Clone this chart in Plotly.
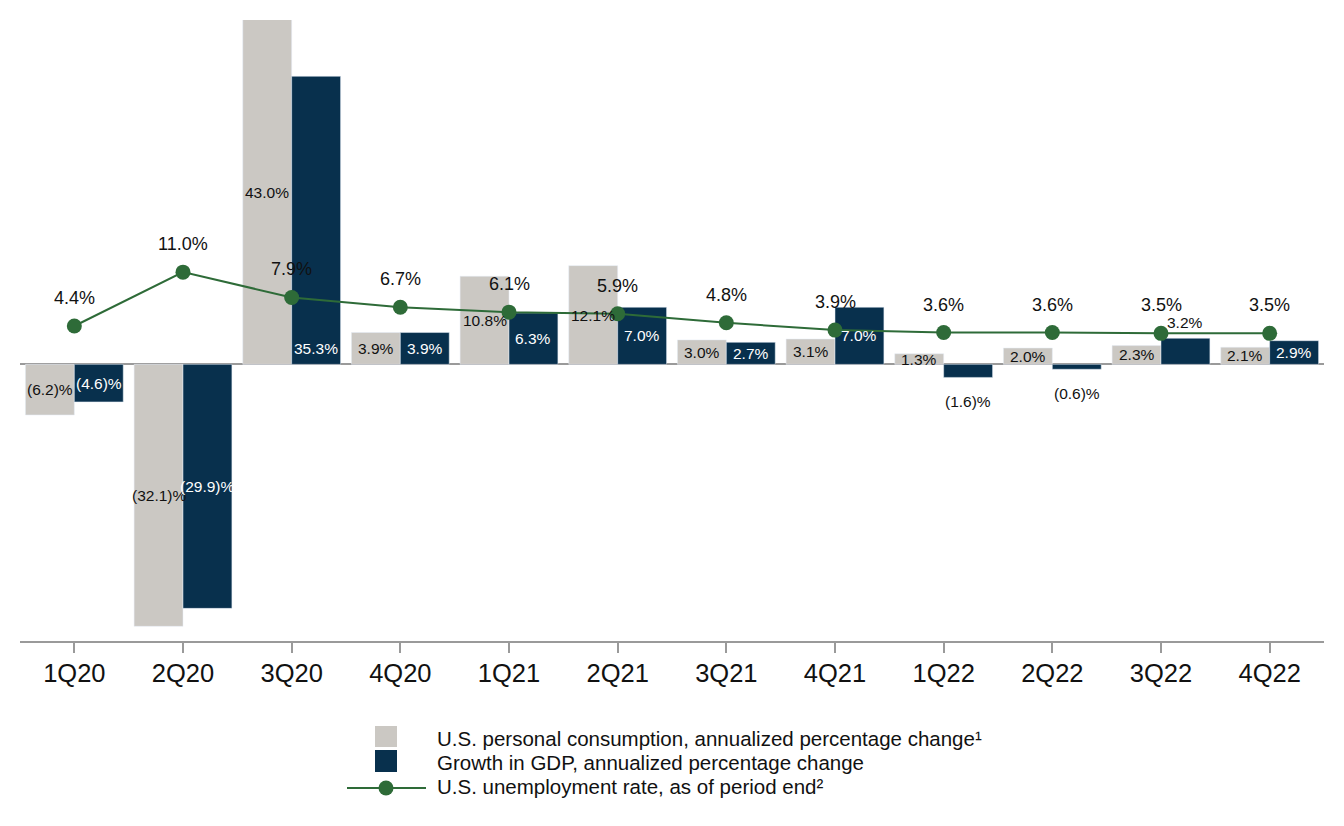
import plotly.graph_objects as go

# Données (en %)
quarters = ['1Q20', '2Q20', '3Q20', '4Q20', '1Q21', '2Q21',
            '3Q21', '4Q21', '1Q22', '2Q22', '3Q22', '4Q22']
consumption = [-6.2, -32.1, 43.0, 3.9, 10.8, 12.1, 3.0, 3.1, 1.3, 2.0, 2.3, 2.1]
gdp = [-4.6, -29.9, 35.3, 3.9, 6.3, 7.0, 2.7, 7.0, -1.6, -0.6, 3.2, 2.9]
unemployment = [4.4, 11.0, 7.9, 6.7, 6.1, 5.9, 4.8, 3.9, 3.6, 3.6, 3.5, 3.5]

names = ['U.S. personal consumption, annualized percentage change\u00b9',
         'Growth in GDP, annualized percentage change',
         'U.S. unemployment rate, as of period end\u00b2']

GREY = '#cbc8c3'
NAVY = '#08304d'
GREEN = '#2e6b38'
AXIS = '#9a9a9a'
FONT = 'Liberation Sans, Arial, sans-serif'

Y_RANGE = [-33.9, 42.2]
Y2_RANGE = [-34.2, 41.9]
BARGAP = 0.1
OFF = (1 - BARGAP) / 4  # centre de chaque barre dans le groupe

# placement des étiquettes GDP qui ne sont pas au milieu de la barre
gdp_label_y = {2: 2.0, 8: -4.5, 9: -3.55, 10: 5.1}
gdp_outside = {8, 9, 10}


def fmt(v):
    return f'({abs(v):.1f})%' if v < 0 else f'{v:.1f}%'


x = list(range(len(quarters)))

fig = go.Figure()
fig.add_trace(go.Bar(x=x, y=consumption, name=names[0], marker_color=GREY,
                     showlegend=False, hoverinfo='skip'))
fig.add_trace(go.Bar(x=x, y=gdp, name=names[1], marker_color=NAVY,
                     showlegend=False, hoverinfo='skip'))
fig.add_trace(go.Scatter(x=x, y=unemployment, name=names[2], yaxis='y2',
                         mode='lines+markers', showlegend=False,
                         line=dict(color=GREEN, width=2),
                         marker=dict(color=GREEN, size=15)))

annotations = []
for i, v in enumerate(consumption):
    yv = min(v, Y_RANGE[1]) / 2
    annotations.append(dict(x=i - OFF, y=yv, xref='x', yref='y', text=fmt(v),
                            showarrow=False, font=dict(size=15.5, color='#111111')))
for i, v in enumerate(gdp):
    yv = gdp_label_y.get(i, v / 2)
    col = '#111111' if i in gdp_outside else 'white'
    annotations.append(dict(x=i + OFF, y=yv, xref='x', yref='y', text=fmt(v),
                            showarrow=False, font=dict(size=15.5, color=col)))
for i, v in enumerate(unemployment):
    annotations.append(dict(x=i, y=v, xref='x', yref='y2', text=f'{v:.1f}%',
                            yshift=28, showarrow=False,
                            font=dict(size=18, color='#111111')))

# la page ajoute 8 px de marge autour de la figure
PAGE = 8
FIG_W, FIG_H = 1344 - 2 * PAGE, 826 - PAGE
PLOT_X0, PLOT_X1, PLOT_Y0, PLOT_Y1 = 20, 1324, 20, 641   # en pixels de page
L, T = PLOT_X0 - PAGE, PLOT_Y0 - PAGE
R = FIG_W - (PLOT_X1 - PAGE)
B = FIG_H - (PLOT_Y1 - PAGE)
W, H = PLOT_X1 - PLOT_X0, PLOT_Y1 - PLOT_Y0


def px_x(p):
    return (p - PLOT_X0) / W


def px_y(p):
    return (PLOT_Y1 - p) / H


# légende dessinée à la main
shapes = [
    dict(type='rect', xref='paper', yref='paper', x0=px_x(375), x1=px_x(397),
         y0=px_y(726), y1=px_y(747), fillcolor=GREY, line_width=0),
    dict(type='rect', xref='paper', yref='paper', x0=px_x(375), x1=px_x(397),
         y0=px_y(750), y1=px_y(772), fillcolor=NAVY, line_width=0),
    dict(type='line', xref='paper', yref='paper', x0=px_x(347), x1=px_x(426),
         y0=px_y(788), y1=px_y(788), line=dict(color=GREEN, width=2)),
    dict(type='circle', xref='paper', yref='paper', x0=px_x(378.5), x1=px_x(393.5),
         y0=px_y(780.5), y1=px_y(795.5), fillcolor=GREEN, line_width=0),
]
for name, yy in zip(names, [738, 762, 786]):
    annotations.append(dict(x=px_x(435), y=px_y(yy), xref='paper', yref='paper',
                            text=name, showarrow=False, xanchor='left',
                            yanchor='middle', font=dict(size=20.5, color='#111111')))

fig.update_layout(
    width=FIG_W, height=FIG_H,
    margin=dict(l=L, r=R, t=T, b=B),
    plot_bgcolor='white', paper_bgcolor='white',
    barmode='group', bargap=BARGAP, bargroupgap=0,
    font=dict(family=FONT, color='#111111'),
    showlegend=False,
    annotations=annotations,
    shapes=shapes,
    xaxis=dict(range=[-0.5, len(quarters) - 0.5], tickvals=x, ticktext=quarters,
               showline=True, linecolor=AXIS, linewidth=1.5,
               ticks='outside', ticklen=10, tickcolor=AXIS, tickwidth=1.5,
               ticklabelstandoff=-1, showgrid=False, zeroline=False,
               tickfont=dict(size=25.5, color='#111111')),
    yaxis=dict(range=Y_RANGE, showticklabels=False, showgrid=False,
               zeroline=True, zerolinecolor=AXIS, zerolinewidth=1.5),
    yaxis2=dict(range=Y2_RANGE, overlaying='y', visible=False),
)

fig.write_html('out.html')
